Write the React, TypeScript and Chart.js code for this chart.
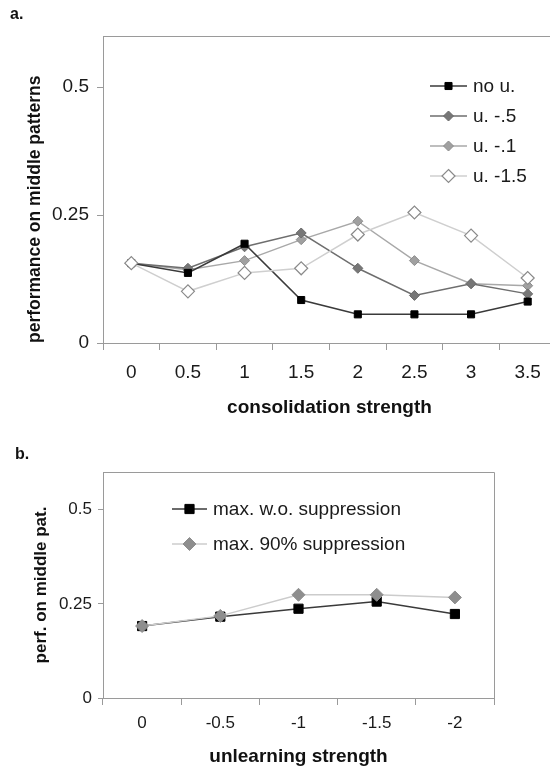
import React, { useEffect, useRef } from "react";
import { Chart, registerables } from "chart.js";

Chart.register(...registerables);

// ---------- Data ----------
const consolidationLabels = ["0", "0.5", "1", "1.5", "2", "2.5", "3", "3.5"];
const noU = [0.156, 0.137, 0.194, 0.084, 0.056, 0.056, 0.056, 0.081];
const u05 = [0.156, 0.146, 0.188, 0.215, 0.146, 0.093, 0.116, 0.096];
const u1 = [0.156, 0.143, 0.161, 0.202, 0.238, 0.161, 0.116, 0.112];
const u15 = [0.156, 0.101, 0.137, 0.146, 0.212, 0.255, 0.21, 0.127];

const unlearningLabels = ["0", "-0.5", "-1", "-1.5", "-2"];
const maxNoSuppression = [0.191, 0.216, 0.237, 0.256, 0.223];
const max90Suppression = [0.191, 0.218, 0.274, 0.274, 0.267];

const yTickValues = [0, 0.25, 0.5];

const FONT = "'Liberation Sans', Arial, Helvetica, sans-serif";
const AXIS = "#9a9a9a";
const TEXT = "#1a1a1a";

// ---------- Plugins ----------
function drawMarker(ctx: CanvasRenderingContext2D, style: string, x: number, y: number, r: number, fill: string, stroke: string, bw: number) {
  ctx.save();
  ctx.beginPath();
  if (style === "rect") {
    const s = Math.SQRT1_2 * r;
    ctx.rect(x - s, y - s, 2 * s, 2 * s);
  } else {
    ctx.moveTo(x, y - r);
    ctx.lineTo(x + r, y);
    ctx.lineTo(x, y + r);
    ctx.lineTo(x - r, y);
    ctx.closePath();
  }
  ctx.fillStyle = fill;
  ctx.fill();
  if (bw > 0) {
    ctx.lineWidth = bw;
    ctx.strokeStyle = stroke;
    ctx.stroke();
  }
  ctx.restore();
}

const framePlugin = {
  id: "frame",
  beforeDatasetsDraw(chart: any) {
    const { ctx, chartArea } = chart;
    ctx.save();
    ctx.strokeStyle = AXIS;
    ctx.lineWidth = 1;
    ctx.beginPath();
    ctx.moveTo(chartArea.left, chartArea.top + 0.5);
    ctx.lineTo(chartArea.right + 0.5, chartArea.top + 0.5);
    ctx.lineTo(chartArea.right + 0.5, chartArea.bottom);
    ctx.stroke();
    ctx.restore();
  },
};

const insideLegendPlugin = {
  id: "insideLegend",
  afterDraw(chart: any, _args: any, opts: any) {
    const { ctx } = chart;
    ctx.save();
    ctx.font = `${opts.fontSize}px ${FONT}`;
    ctx.textBaseline = "middle";
    ctx.textAlign = "left";
    chart.data.datasets.forEach((ds: any, i: number) => {
      const y = opts.y + i * opts.rowGap;
      ctx.beginPath();
      ctx.strokeStyle = ds.borderColor;
      ctx.lineWidth = ds.borderWidth;
      ctx.moveTo(opts.x, y);
      ctx.lineTo(opts.x + opts.lineLen, y);
      ctx.stroke();
      drawMarker(ctx, ds.pointStyle, opts.x + opts.lineLen / 2, y, ds.pointRadius, ds.pointBackgroundColor, ds.pointBorderColor, ds.pointBorderWidth);
      ctx.fillStyle = TEXT;
      ctx.fillText(ds.label, opts.x + opts.lineLen + opts.textGap, y + 1);
    });
    ctx.restore();
  },
};

// ---------- Config builders ----------
function makeConfig(p: {
  labels: string[];
  datasets: any[];
  yWidth: number;
  xHeight: number;
  padding: any;
  yTitle: string;
  xTitle: string;
  tickSize: number;
  xTitleSize: number;
  yTitleSize: number;
  yTitleAlign: string;
  yTickLen: number;
  yTickPad: number;
  xTickLen: number;
  xTickPad: number;
  yTitlePad: number;
  xTitlePad: number;
  legend: any;
}) {
  return {
    type: "line",
    data: { labels: p.labels, datasets: p.datasets },
    plugins: [framePlugin, insideLegendPlugin],
    options: {
      responsive: false,
      animation: false,
      devicePixelRatio: 1,
      layout: { padding: p.padding },
      plugins: {
        legend: { display: false },
        tooltip: { enabled: false },
        insideLegend: p.legend,
      },
      scales: {
        x: {
          type: "category",
          offset: true,
          afterFit: (s: any) => {
            s.height = p.xHeight;
          },
          grid: { offset: true, drawOnChartArea: false, drawTicks: true, tickLength: p.xTickLen, color: AXIS, lineWidth: 1 },
          border: { color: AXIS, width: 1 },
          ticks: { padding: p.xTickPad, color: TEXT, font: { family: FONT, size: p.tickSize }, maxRotation: 0, autoSkip: false },
          title: {
            display: true,
            text: p.xTitle,
            color: "#111",
            font: { family: FONT, size: p.xTitleSize, weight: "bold" },
            padding: { top: 0, bottom: p.xTitlePad },
          },
        },
        y: {
          min: 0,
          max: 0.6,
          afterFit: (s: any) => {
            s.width = p.yWidth;
          },
          afterBuildTicks: (s: any) => {
            s.ticks = yTickValues.map((v) => ({ value: v }));
          },
          grid: { drawOnChartArea: false, drawTicks: true, tickLength: p.yTickLen, color: AXIS, lineWidth: 1 },
          border: { color: AXIS, width: 1 },
          ticks: {
            padding: p.yTickPad,
            color: TEXT,
            font: { family: FONT, size: p.tickSize },
            callback: (v: any) => String(v),
          },
          title: {
            display: true,
            text: p.yTitle,
            align: p.yTitleAlign,
            color: "#111",
            font: { family: FONT, size: p.yTitleSize, weight: "bold" },
            padding: { top: p.yTitlePad, bottom: 0 },
          },
        },
      },
    },
  };
}

const configA = makeConfig({
  labels: consolidationLabels,
  datasets: [
    {
      label: "no u.",
      data: noU,
      borderColor: "#3a3a3a",
      borderWidth: 1.5,
      pointStyle: "rect",
      pointRadius: 5,
      pointBackgroundColor: "#000",
      pointBorderColor: "#000",
      pointBorderWidth: 1,
      order: 1,
    },
    {
      label: "u. -.5",
      data: u05,
      borderColor: "#6e6e6e",
      borderWidth: 1.5,
      pointStyle: "rectRot",
      pointRadius: 5,
      pointBackgroundColor: "#777",
      pointBorderColor: "#6a6a6a",
      pointBorderWidth: 1,
      order: 2,
    },
    {
      label: "u. -.1",
      data: u1,
      borderColor: "#a8a8a8",
      borderWidth: 1.5,
      pointStyle: "rectRot",
      pointRadius: 5,
      pointBackgroundColor: "#a0a0a0",
      pointBorderColor: "#8c8c8c",
      pointBorderWidth: 1,
      order: 3,
    },
    {
      label: "u. -1.5",
      data: u15,
      borderColor: "#cfcfcf",
      borderWidth: 1.5,
      pointStyle: "rectRot",
      pointRadius: 6.5,
      pointBackgroundColor: "#fff",
      pointBorderColor: "#8a8a8a",
      pointBorderWidth: 1.2,
      order: 0,
    },
  ],
  yWidth: 103,
  xHeight: 77,
  padding: { left: 0, top: 36, right: 19, bottom: 0 },
  yTitle: "performance on middle patterns",
  xTitle: "consolidation strength",
  tickSize: 19,
  xTitleSize: 19,
  yTitleSize: 17.5,
  yTitleAlign: "start",
  yTickLen: 6,
  yTickPad: 8,
  xTickLen: 7,
  xTickPad: 11,
  yTitlePad: 25,
  xTitlePad: 1,
  legend: { x: 430, y: 86, rowGap: 30, lineLen: 37, textGap: 6, fontSize: 19 },
});

const configB = makeConfig({
  labels: unlearningLabels,
  datasets: [
    {
      label: "max. w.o. suppression",
      data: maxNoSuppression,
      borderColor: "#3a3a3a",
      borderWidth: 1.5,
      pointStyle: "rect",
      pointRadius: 6.5,
      pointBackgroundColor: "#000",
      pointBorderColor: "#000",
      pointBorderWidth: 1,
      order: 1,
    },
    {
      label: "max. 90% suppression",
      data: max90Suppression,
      borderColor: "#cccccc",
      borderWidth: 1.5,
      pointStyle: "rectRot",
      pointRadius: 6.5,
      pointBackgroundColor: "#8e8e8e",
      pointBorderColor: "#8e8e8e",
      pointBorderWidth: 1,
      order: 0,
    },
  ],
  yWidth: 103,
  xHeight: 70,
  padding: { left: 0, top: 52, right: 56, bottom: 0 },
  yTitle: "perf. on middle pat.",
  xTitle: "unlearning strength",
  tickSize: 17,
  xTitleSize: 19,
  yTitleSize: 17,
  yTitleAlign: "center",
  yTickLen: 5,
  yTickPad: 6,
  xTickLen: 7,
  xTickPad: 8,
  yTitlePad: 31,
  xTitlePad: 0,
  legend: { x: 172, y: 89, rowGap: 35, lineLen: 35, textGap: 6, fontSize: 19 },
});

function ChartCanvas({ config, width, height, top }: { config: any; width: number; height: number; top: number }) {
  const ref = useRef<HTMLCanvasElement>(null);
  useEffect(() => {
    const chart = new Chart(ref.current as HTMLCanvasElement, config);
    return () => chart.destroy();
  }, [config]);
  return (
    <canvas
      ref={ref}
      width={width}
      height={height}
      style={{ position: "absolute", left: 0, top, width, height }}
    />
  );
}

export default function App() {
  const panelLabel: React.CSSProperties = {
    position: "absolute",
    fontFamily: FONT,
    fontWeight: "bold",
    fontSize: 16,
    color: "#111",
    lineHeight: "16px",
  };
  return (
    <div
      style={{
        position: "fixed",
        left: 0,
        top: 0,
        width: 550,
        height: 768,
        overflow: "hidden",
        background: "#fff",
      }}
    >
      <ChartCanvas config={configA} width={575} height={420} top={0} />
      <ChartCanvas config={configB} width={550} height={348} top={420} />
      <div style={{ ...panelLabel, left: 10, top: 6 }}>a.</div>
      <div style={{ ...panelLabel, left: 15, top: 446 }}>b.</div>
    </div>
  );
}
